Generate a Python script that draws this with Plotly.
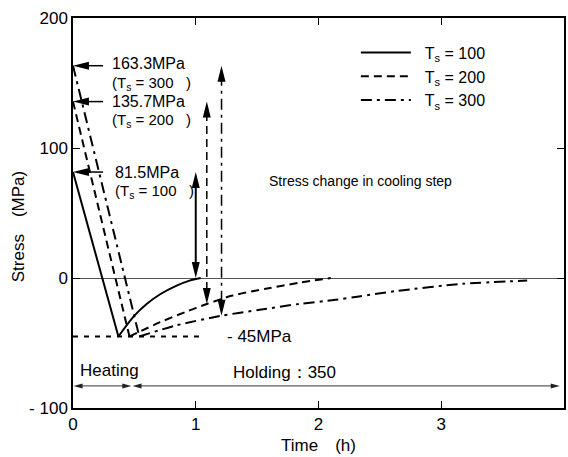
import math
import plotly.graph_objects as go

# ---- canvas / plot-area geometry ----
W, H = 568, 457
ML, MR, MT, MB = 73, 2, 18, 49
X_RANGE = [0, 4]
Y_RANGE = [-100, 200]
PX_T = (W - ML - MR) / (X_RANGE[1] - X_RANGE[0])   # pixels per hour
PX_S = (H - MT - MB) / (Y_RANGE[1] - Y_RANGE[0])   # pixels per MPa

FONT = "Liberation Sans, Arial, sans-serif"

# ---- data ----
temps = ["100", "200", "300"]
initial_stress = [81.5, 135.7, 163.3]          # stress at start of heating (MPa)
min_stress = -45.0                              # stress at end of heating (MPa)
heating_end = [0.37, 0.46, 0.54]                # time when -45 MPa is reached (h)

hold100_t = [0.37, 0.50, 0.60, 0.71, 0.84, 0.95, 1.04]
hold100_s = [-45, -29, -20, -12.5, -6, -2, 0]
hold200_t = [0.46, 0.71, 0.92, 1.09, 1.30, 1.57, 1.84, 2.10]
hold200_s = [-45, -34, -26, -20, -13.5, -8.3, -3.7, 0]
hold300_t = [0.54, 0.84, 1.21, 1.52, 1.84, 2.14, 2.33, 2.63, 3.17, 3.70]
hold300_s = [-45, -36.5, -29, -24.5, -20, -16.8, -14.2, -10.1, -4.5, -2]

hold_t = [hold100_t, hold200_t, hold300_t]
hold_s = [hold100_s, hold200_s, hold300_s]

# stress change in the cooling step: drawn at these times, from the curve up to the initial stress
cool_t = [1.00, 1.09, 1.21]
cool_low = [0, -20, -29]

min_line_span = [0, 1.07]
heating_span = [0, 0.48]
holding_span = [0.48, 3.97]
phase_level = -83

dashes = ["solid", "8px,5px", "11px,5px,3px,5px"]

fig = go.Figure()

for i, T in enumerate(temps):
    style = dict(color="black", width=2, dash=dashes[i])
    # heating: straight drop from the initial stress to -45 MPa
    fig.add_trace(go.Scatter(
        x=[0, heating_end[i]], y=[initial_stress[i], min_stress],
        mode="lines", line=style, legendgroup=T,
        name=f"\u00a0\u00a0T<sub>s</sub> = {T}", showlegend=True, hoverinfo="skip"))
    # holding: relaxation curve
    fig.add_trace(go.Scatter(
        x=hold_t[i], y=hold_s[i], mode="lines",
        line=dict(style, shape="spline", smoothing=0.8),
        legendgroup=T, showlegend=False, hoverinfo="skip"))

# -45 MPa level
fig.add_trace(go.Scatter(
    x=min_line_span, y=[min_stress, min_stress], mode="lines",
    line=dict(color="black", width=2, dash="5px,6px"),
    showlegend=False, hoverinfo="skip"))

shapes = []


def head(tip_t, tip_s, ux, uy, length, width, color="black"):
    """Filled triangular arrowhead; (ux, uy) is the pointing direction in screen px (y up)."""
    n = math.hypot(ux, uy)
    ux, uy = ux / n, uy / n
    px, py = -uy, ux
    bx, by = -ux * length, -uy * length
    pts = [(0, 0), (bx + px * width / 2, by + py * width / 2),
           (bx - px * width / 2, by - py * width / 2)]
    path = "M" + " L".join(f"{tip_t + dx / PX_T:.5f},{tip_s + dy / PX_S:.4f}" for dx, dy in pts) + " Z"
    shapes.append(dict(type="path", path=path, xref="x", yref="y",
                       fillcolor=color, line=dict(width=0), layer="above"))


def stem(t0, s0, t1, s1, width, dash="solid", color="black"):
    shapes.append(dict(type="line", xref="x", yref="y", x0=t0, y0=s0, x1=t1, y1=s1,
                       line=dict(color=color, width=width, dash=dash), layer="above"))


# vertical double arrows: stress change in cooling step
for i in range(3):
    lo, hi = cool_low[i], initial_stress[i]
    L = 16
    stem(cool_t[i], lo + (L - 2) / PX_S, cool_t[i], hi - (L - 2) / PX_S,
         2 if i == 0 else 1.5, dashes[i])
    head(cool_t[i], hi, 0, 1, L, 8)
    head(cool_t[i], lo, 0, -1, L, 8)

# horizontal arrows pointing at the initial stress on the axis
label_tail_t = 0.245
for i in range(3):
    s = initial_stress[i]
    stem(label_tail_t, s, 0.1, s, 1.5)
    head(0, s, -1, 0, 16, 8)

# heating / holding span arrows
for a, b in (heating_span, holding_span):
    stem(a + 0.05, phase_level, b - 0.05, phase_level, 1, color="#333")
    head(a + 0.005, phase_level, -1, 0, 9, 5, "#222")
    head(b - 0.005, phase_level, 1, 0, 9, 5, "#222")

fig.update_layout(shapes=shapes)

ann = []
lab_x = [0.325, 0.30, 0.30]
main_shift = [0, 0, 1.5]      # MPa, keeps the two upper label groups apart
for i, T in enumerate(temps):
    s = initial_stress[i]
    ym = s + main_shift[i]
    ann.append(dict(x=lab_x[i], y=ym, text=f"{s}MPa", xanchor="left", yanchor="middle",
                    showarrow=False, font=dict(size=16)))
    ann.append(dict(x=lab_x[i], y=ym - 14.8, text=f"(T<sub>s</sub> = {T}\u00a0\u00a0\u00a0)",
                    xanchor="left", yanchor="middle", showarrow=False, font=dict(size=15)))

ann += [
    dict(x=1.24, y=min_stress, text=f"- {abs(min_stress):.0f}MPa", xanchor="left",
         yanchor="middle", showarrow=False, font=dict(size=17)),
    dict(x=2.345, y=75, text="Stress change in cooling step", xanchor="center",
         yanchor="middle", showarrow=False, font=dict(size=14)),
    dict(x=0.04, y=-71, text="Heating", xanchor="left", yanchor="middle",
         showarrow=False, font=dict(size=17)),
    dict(x=1.29, y=-72.5, text="Holding：350", xanchor="left", yanchor="middle",
         showarrow=False, font=dict(size=17)),
    dict(x=0.499, y=-0.097, xref="paper", yref="paper", text="Time　(h)",
         xanchor="center", yanchor="middle", showarrow=False, font=dict(size=17)),
    dict(x=-0.1116, y=0.464, xref="paper", yref="paper", text="Stress　(MPa)",
         textangle=-90, xanchor="center", yanchor="middle", showarrow=False,
         font=dict(size=17)),
]

fig.update_layout(
    width=W, height=H,
    margin=dict(l=ML, r=MR, t=MT, b=MB, pad=0),
    paper_bgcolor="white", plot_bgcolor="white",
    font=dict(family=FONT, size=17, color="black"),
    annotations=ann,
    legend=dict(x=(357 - ML) / (W - ML - MR), y=0.955, xanchor="left", yanchor="top",
                bgcolor="rgba(0,0,0,0)", font=dict(size=16), itemwidth=50,
                tracegroupgap=0),
    xaxis=dict(range=X_RANGE, tickvals=[0, 1, 2, 3, 4], ticks="inside", ticklen=7,
               tickwidth=1, tickcolor="black", showline=True, linecolor="black",
               linewidth=1.5, mirror="ticks", showgrid=False, zeroline=False,
               tickfont=dict(size=17)),
    yaxis=dict(range=Y_RANGE, tickvals=[-100, 0, 100, 200],
               ticktext=["- 100", "0", "100", "200"], ticks="inside", ticklen=7,
               tickwidth=1, tickcolor="black", showline=True, linecolor="black",
               linewidth=1.5, mirror="ticks", showgrid=False, zeroline=True,
               zerolinecolor="#555", zerolinewidth=1, tickfont=dict(size=17)),
)

fig.write_html("out.html")
